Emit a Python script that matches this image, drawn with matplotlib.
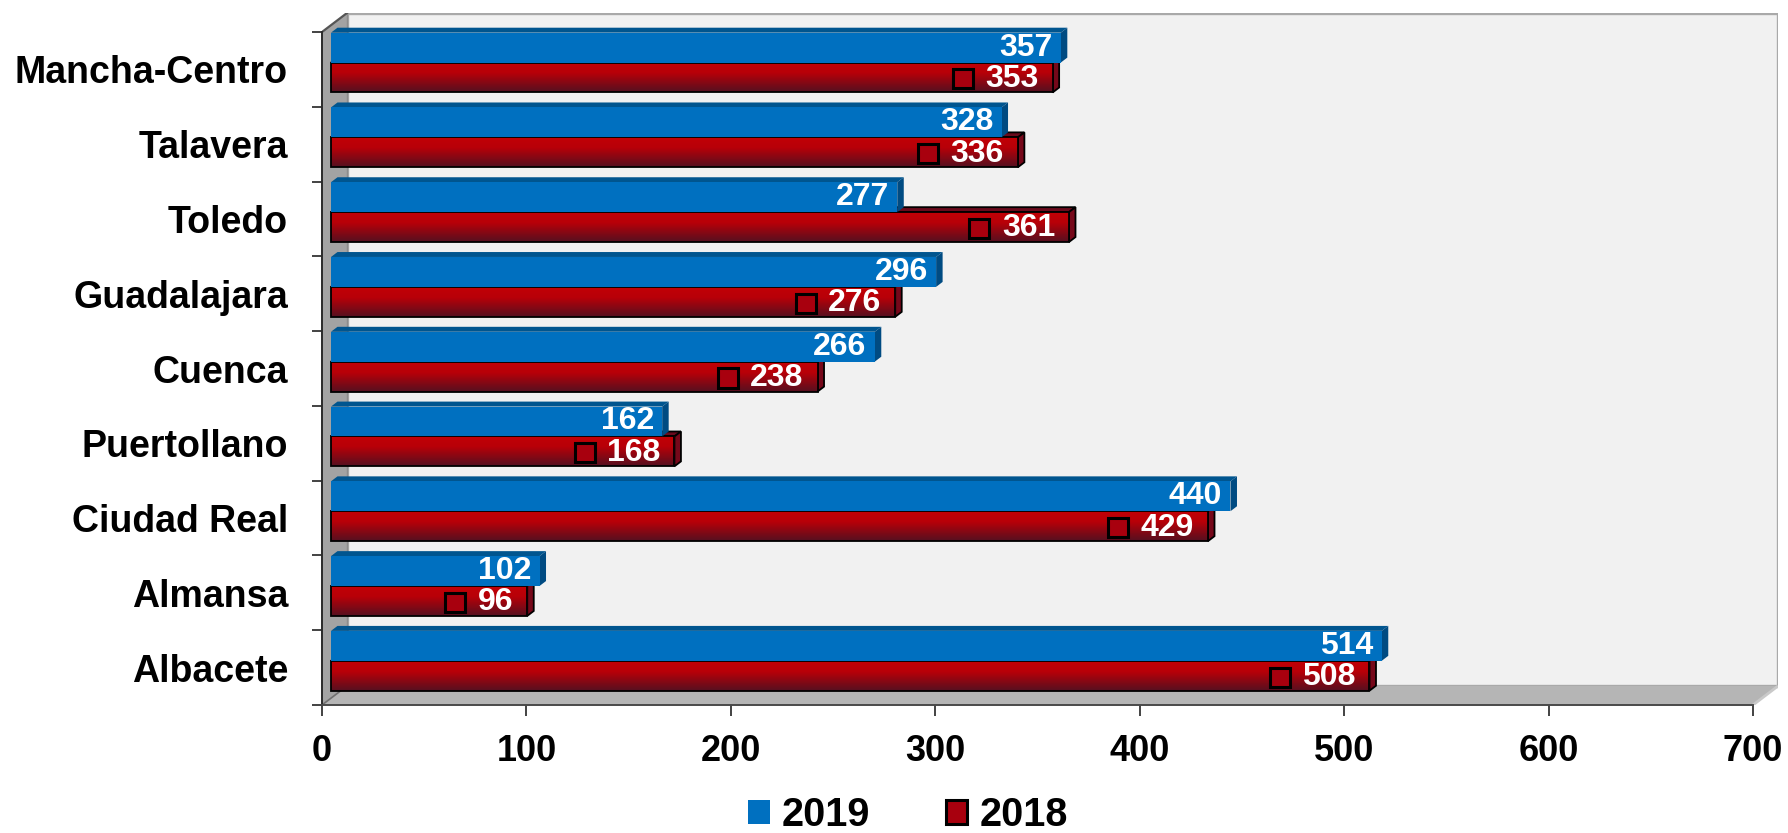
import numpy as np
import matplotlib
matplotlib.use('Agg')
import matplotlib.pyplot as plt
from matplotlib.patches import Polygon, Rectangle, Patch
from matplotlib.colors import LinearSegmentedColormap
from matplotlib.offsetbox import AnnotationBbox, HPacker, TextArea, DrawingArea

# ---------------- data ----------------
categories = ['Albacete', 'Almansa', 'Ciudad Real', 'Puertollano', 'Cuenca',
              'Guadalajara', 'Toledo', 'Talavera', 'Mancha-Centro']
v2019 = [514, 102, 440, 162, 266, 296, 277, 328, 357]
v2018 = [508, 96, 429, 168, 238, 276, 361, 336, 353]
series_names = ['2019', '2018']
xticks = [0, 100, 200, 300, 400, 500, 600, 700]

plt.rcParams['font.family'] = ['Liberation Sans', 'DejaVu Sans']
plt.rcParams['font.weight'] = 'bold'

W, H = 1788, 833
fig = plt.figure(figsize=(W / 100, H / 100), dpi=100)
fig.patch.set_facecolor('white')

# geometry (pixels)
X0, Y0 = 322, 705          # front origin (x=0, bottom of front plane)
PXU = (1753 - 322) / 700.0  # px per value unit
CAT = (705 - 32) / 9.0      # px per category
DXPX, DYPX = 25, 19         # depth offset in px
DX = DXPX / PXU
DY = DYPX / CAT
xmax = 700 + DX
ymin, ymax = -0.5, 8.5 + DY

ax = fig.add_axes([X0 / W, (H - Y0) / H, xmax * PXU / W, (ymax - ymin) * CAT / H])
ax.set_facecolor('none')

# ---------------- walls ----------------
back = Polygon([(DX, -0.5 + DY), (700 + DX, -0.5 + DY), (700 + DX, 8.5 + DY), (DX, 8.5 + DY)],
               closed=True, fc='#F1F1F1', ec='#A9A9A9', lw=2.4, zorder=0.1, joinstyle='miter')
ax.add_patch(back)
floor = Polygon([(0, -0.5), (700, -0.5), (700 + DX, -0.5 + DY), (DX, -0.5 + DY)],
                closed=True, fc='#B5B5B5', ec='none', zorder=0.2)
ax.add_patch(floor)
ax.plot([700, 700 + DX], [-0.5, -0.5 + DY], color='#C9C9C9', lw=2, zorder=0.25,
        solid_capstyle='butt')
lwall = Polygon([(0, -0.5), (DX, -0.5 + DY), (DX, 8.5 + DY), (0, 8.5)],
                closed=True, fc='#A3A3A3', ec='none', zorder=0.3)
ax.add_patch(lwall)
ax.plot([0, DX], [8.5, 8.5 + DY], color='#555555', lw=1.6, zorder=0.35)
ax.plot([0, DX], [-0.5, -0.5 + DY], color='#707070', lw=1.2, zorder=0.35)
ax.plot([DX, DX], [-0.5 + DY, 8.5 + DY], color='#8C8C8C', lw=1.0, zorder=0.34)

# ---------------- bars ----------------
D0, D1 = 0.36, 0.62
ox0, oy0 = D0 * DX, D0 * DY
ox1, oy1 = D1 * DX, D1 * DY
BH = 0.4

red_cmap = LinearSegmentedColormap.from_list(
    'redgrad', [(0.0, '#C20006'), (0.35, '#B80008'), (1.0, '#561020')])
grad = np.linspace(0, 1, 64).reshape(-1, 1)


def draw_box(x1, y0, y1, z, front, top, side, edge=None, lw=0.0, gradient=False):
    x0 = 0.0
    fr = [(x0 + ox0, y0 + oy0), (x1 + ox0, y0 + oy0), (x1 + ox0, y1 + oy0), (x0 + ox0, y1 + oy0)]
    tp = [(x0 + ox0, y1 + oy0), (x1 + ox0, y1 + oy0), (x1 + ox1, y1 + oy1), (x0 + ox1, y1 + oy1)]
    sd = [(x1 + ox0, y0 + oy0), (x1 + ox1, y0 + oy1), (x1 + ox1, y1 + oy1), (x1 + ox0, y1 + oy0)]
    ec = edge if edge else 'none'
    ax.add_patch(Polygon(tp, closed=True, fc=top, ec=ec, lw=lw, zorder=z))
    ax.add_patch(Polygon(sd, closed=True, fc=side, ec=ec, lw=lw, zorder=z))
    if gradient:
        ax.imshow(grad, extent=[x0 + ox0, x1 + ox0, y0 + oy0, y1 + oy0], aspect='auto',
                  cmap=red_cmap, interpolation='bilinear', zorder=z + 0.01, origin='upper')
        ax.add_patch(Polygon(fr, closed=True, fill=False, ec=ec, lw=lw, zorder=z + 0.02))
    else:
        ax.add_patch(Polygon(fr, closed=True, fc=front, ec=ec, lw=lw, zorder=z + 0.02))


for i, cat in enumerate(categories):
    z = 1 + (8 - i) * 0.1
    # 2018 (red, lower)
    draw_box(v2018[i], i - BH, i, z, None, '#6A0A1C', '#76081A', edge='black', lw=1.3,
             gradient=True)
    # 2019 (blue, upper)
    draw_box(v2019[i], i, i + BH, z + 0.05, '#0070C0', '#00558F', '#004B82')

# ---------------- data labels ----------------
for i in range(len(categories)):
    ax.annotate(str(v2019[i]), xy=(v2019[i] + ox0, i + BH / 2 + oy0), xytext=(-6, 0),
                textcoords='offset points', ha='right', va='center', color='white',
                fontsize=23, fontweight='bold', zorder=6)
    da = DrawingArea(14.4, 13.7, 0, 0)
    da.add_artist(Rectangle((0, 0), 14.4, 13.7, fc='#A8000E', ec='black', lw=2.2))
    ta = TextArea(str(v2018[i]), textprops=dict(color='white', fontsize=23,
                                                 fontweight='bold'))
    pack = HPacker(children=[da, ta], align='center', pad=0, sep=9)
    ab = AnnotationBbox(pack, xy=(v2018[i] + ox0, i - BH / 2 + oy0), xycoords='data',
                        xybox=(-10, -1), boxcoords='offset points', box_alignment=(1, 0.5),
                        frameon=False, pad=0, zorder=6)
    ax.add_artist(ab)

# ---------------- axes / ticks ----------------
ax.set_xlim(0, xmax)
ax.set_ylim(ymin, ymax)
for s in ['top', 'right']:
    ax.spines[s].set_visible(False)
ax.spines['left'].set_bounds(-0.5, 8.5)
ax.spines['bottom'].set_bounds(0, 700)
ax.spines['left'].set_color('#2A2A2A')
ax.spines['bottom'].set_color('#4A4A4A')
ax.spines['left'].set_linewidth(1.4)
ax.spines['bottom'].set_linewidth(1.4)

ax.set_xticks(xticks)
ax.set_xticklabels([str(t) for t in xticks], fontsize=26, fontweight='bold')
ax.tick_params(axis='x', length=8, width=1.2, pad=13, color='#222222')

ax.set_yticks([k - 0.5 for k in range(len(categories) + 1)])
ax.set_yticklabels([])
ax.tick_params(axis='y', which='major', length=7.2, width=1.2, color='#222222')
ax.set_yticks(range(len(categories)), minor=True)
ax.set_yticklabels(categories, minor=True, fontsize=27, fontweight='bold')
ax.tick_params(axis='y', which='minor', length=0, pad=24.5)

# ---------------- legend ----------------
handles = [Patch(fc='#0070C0', ec='none'), Patch(fc='#A8000E', ec='black', lw=2.2)]
fig.legend(handles=handles, labels=series_names, ncol=2, loc='center',
           bbox_to_anchor=(908 / W, 1 - 815 / H), frameon=False,
           prop=dict(size=28.5, weight='bold'), handlelength=0.55, handleheight=0.55,
           handletextpad=0.3, columnspacing=1.9, borderpad=0, borderaxespad=0)

fig.savefig('out.png', dpi=100)
